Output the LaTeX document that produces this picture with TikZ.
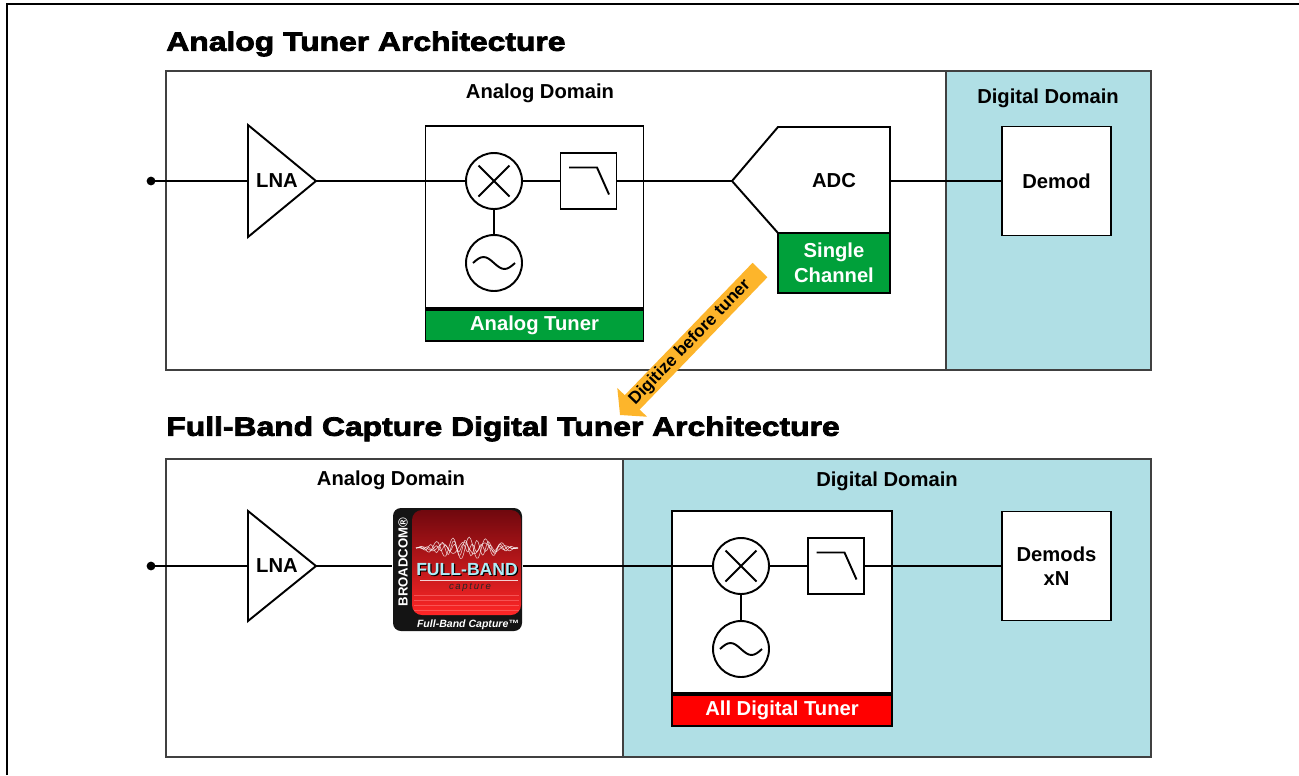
\documentclass[tikz,border=0pt]{standalone}
\usepackage{fontspec}
\setmainfont{Liberation Sans}
\newfontfamily\headfont[FakeStretch=1.2,FakeBold=3]{Liberation Sans}
\usetikzlibrary{arrows.meta}
\definecolor{domblue}{RGB}{176,223,229}
\definecolor{tungreen}{RGB}{0,160,58}
\definecolor{arrorange}{RGB}{253,181,43}
\definecolor{logored}{RGB}{214,26,34}
\definecolor{logodark}{RGB}{112,8,14}
\definecolor{fbcyan}{RGB}{175,236,246}

\begin{document}
\begin{tikzpicture}[x=0.02cm, y=-0.02cm,
  every node/.style={font=\fontsize{11.5}{14}\selectfont\bfseries},
  wire/.style={line width=1.1pt},
  blk/.style={draw, line width=1.1pt, fill=white, inner sep=0pt, minimum width=2.18cm, minimum height=2.18cm, align=center},
  ring/.style={draw, line width=1.1pt, circle, fill=white, inner sep=0pt, minimum size=1.12cm},
  band/.style={draw, line width=1.1pt, text=white, inner sep=0pt, minimum height=0.62cm, align=center},
  domainbox/.style={draw=black!75, line width=0.7pt},
  title/.style={anchor=west, inner sep=0pt, font=\headfont\fontsize{15.1}{17}\selectfont\bfseries}]
  \useasboundingbox (0,0) rectangle (1299,775);
  \draw[line width=1.7pt] (7,775) -- (7,4) -- (1299,4);

  % analog tuner architecture
  \node[title] (title1) at (166,44) {Analog Tuner Architecture};
  \filldraw[domainbox, fill=white] (166,71) rectangle (946,370);
  \filldraw[domainbox, fill=domblue] (946,71) rectangle (1151,370);
  \node (ana1) at (540,93) {Analog Domain};
  \node (dig1) at (1048,98) {Digital Domain};

  \coordinate (in1) at (151,181);
  \coordinate (lna1in) at (248,181);
  \coordinate (lna1out) at (316,181);
  \draw[wire, fill=white] (248,125) -- (lna1out) -- (248,237) -- cycle;
  \node (lna1) at (277,181) {LNA};
  \node[blk, minimum width=4.36cm, minimum height=3.64cm] (tuner1) at (534.5,217) {};
  \node[band, fill=tungreen, minimum width=4.36cm, anchor=north] (band1) at (tuner1.south) {Analog Tuner};
  \node[ring] (mix1) at (494,181) {};
  \node[ring] (osc1) at (494,263) {};
  \node[blk, minimum width=1.12cm, minimum height=1.12cm] (flt1) at (588.5,181) {};
  \coordinate (adcin) at (732,181);
  \coordinate (adcout) at (890,181);
  \draw[wire, fill=white] (adcin) -- (778,127) -- (890,127) -- (890,233) -- (778,233) -- cycle;
  \node (adc) at (834,181) {ADC};
  \node[band, fill=tungreen, minimum width=2.24cm, minimum height=1.2cm] (single) at (834,263) {Single\\Channel};
  \node[blk] (demod) at (1056.5,181) {Demod};

  \fill (in1) circle (2.5pt);
  \draw[wire] (in1) -- (lna1in);
  \draw[wire] (lna1out) -- (mix1);
  \draw[wire] (mix1) -- (flt1);
  \draw[wire] (flt1) -- (adcin);
  \draw[wire] (adcout) -- (demod);
  \draw[wire] (mix1) -- (osc1);
  \draw[wire] ([shift={(-15.5,-15.5)}]mix1.center) -- ++(31,31) ([shift={(15.5,-15.5)}]mix1.center) -- ++(-31,31);
  \draw[wire] ([shift={(-21,0)}]osc1.center) sin ++(10.5,-6) cos ++(10.5,6) sin ++(10.5,6) cos ++(10.5,-6);
  \draw[wire] ([shift={(-19.5,-13.5)}]flt1.center) -- ++(28,0) -- ++(12,27);

  % full-band capture digital tuner architecture
  \node[title] (title2) at (166,429) {Full-Band Capture Digital Tuner Architecture};
  \filldraw[domainbox, fill=white] (166,459) rectangle (623,757);
  \filldraw[domainbox, fill=domblue] (623,459) rectangle (1151,757);
  \node (ana2) at (391,480) {Analog Domain};
  \node (dig2) at (887,481) {Digital Domain};

  \coordinate (in2) at (151,566);
  \coordinate (lna2in) at (248,566);
  \coordinate (lna2out) at (316,566);
  \draw[wire, fill=white] (248,511) -- (lna2out) -- (248,621) -- cycle;
  \node (lna2) at (277,566) {LNA};
  \node[blk, minimum width=4.4cm, minimum height=3.64cm] (tuner2) at (782,602) {};
  \node[band, fill=red, minimum width=4.4cm, anchor=north] (band2) at (tuner2.south) {All Digital Tuner};
  \node[ring] (mix2) at (741,566) {};
  \node[ring] (osc2) at (741,649) {};
  \node[blk, minimum width=1.12cm, minimum height=1.12cm] (flt2) at (836,566) {};
  \node[blk] (demods) at (1056.5,566) {Demods\\xN};

  % full-band capture logo
  \node[minimum width=2.6cm, minimum height=2.46cm, inner sep=0pt] (logo) at (457.5,569.5) {};
  \fill[black!92, rounded corners=1.6mm] (393,508) rectangle (522,631);
  \shade[rounded corners=2mm, top color=logodark, middle color=logored, bottom color=red!85!white] (412,510) rectangle (521,615);
  \foreach \a/\f in {11/22, 8/31, 6/17, 4/40}
    \draw[white, line width=0.35pt, opacity=0.75] plot[domain=416:518, samples=70, smooth] (\x, {548 - \a*sin((\x-416)*\f)*sin((\x-416)*1.76)});
  \foreach \y in {595,600,605,610}
    \draw[red!55!white, line width=0.5pt, opacity=0.6] (414,\y) -- (519,\y);
  \node[inner sep=0pt, text=black, font=\fontsize{10}{10}\selectfont\bfseries] (fbshadow) at (468.2,570.6) {FULL-BAND};
  \node[inner sep=0pt, text=fbcyan, font=\fontsize{10}{10}\selectfont\bfseries] (fbname) at (467,569.5) {FULL-BAND};
  \draw[white, line width=0.8pt, opacity=0.8] (420,580.5) -- (518,580.5);
  \node[inner sep=0pt, text=black!85, font=\fontsize{5.5}{6}\selectfont\itshape] (fbsub) at (470,587) {c\,a\,p\,t\,u\,r\,e};
  \node[inner sep=0pt, text=white, rotate=90, font=\fontsize{7.5}{8}\selectfont\bfseries] (bcm) at (403,562) {BROADCOM®};
  \node[inner sep=0pt, text=white, font=\fontsize{6}{7}\selectfont\bfseries\itshape] (fbfoot) at (468,624.5) {Full-Band Capture™};

  \fill (in2) circle (2.5pt);
  \draw[wire] (in2) -- (lna2in);
  \draw[wire] (lna2out) -- (lna2out -| logo.west);
  \draw[wire] (logo.east |- mix2) -- (mix2);
  \draw[wire] (mix2) -- (flt2);
  \draw[wire] (flt2) -- (demods);
  \draw[wire] (mix2) -- (osc2);
  \draw[wire] ([shift={(-15.5,-15.5)}]mix2.center) -- ++(31,31) ([shift={(15.5,-15.5)}]mix2.center) -- ++(-31,31);
  \draw[wire] ([shift={(-21,0)}]osc2.center) sin ++(10.5,-6) cos ++(10.5,6) sin ++(10.5,6) cos ++(10.5,-6);
  \draw[wire] ([shift={(-19.5,-13.5)}]flt2.center) -- ++(28,0) -- ++(12,27);

  % digitize arrow
  \coordinate (arrtail) at (760,270);
  \coordinate (arrtip) at (620,415);
  \draw[arrorange, line width=11.8pt, -{Triangle[length=10pt,width=23pt]}] (arrtail) -- node[sloped, inner sep=0pt, text=black, font=\fontsize{9.8}{12}\selectfont\bfseries] (arrtext) {Digitize before tuner} (arrtip);
\end{tikzpicture}
\end{document}
